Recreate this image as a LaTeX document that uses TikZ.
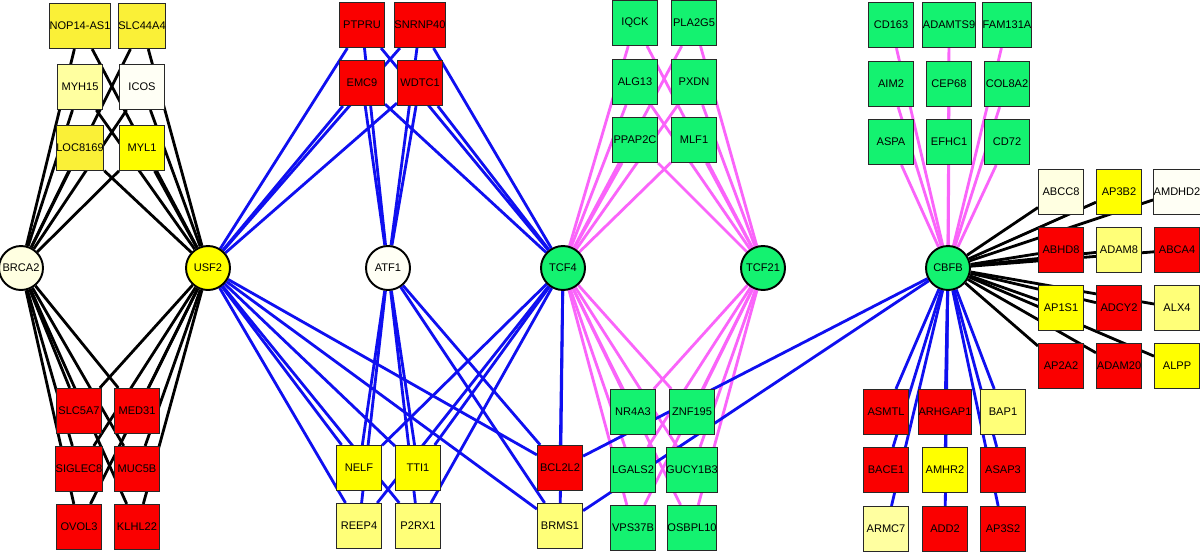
\documentclass[tikz,border=0pt]{standalone}
\usepackage{fontspec}
\setmainfont{Liberation Sans}
\usepackage{tikz}
\usetikzlibrary{backgrounds}
\definecolor{gn}{RGB}{20,242,112}
\definecolor{rd}{RGB}{250,0,0}
\definecolor{ylA}{RGB}{255,255,0}
\definecolor{ylB}{RGB}{250,240,55}
\definecolor{ylC}{RGB}{255,255,120}
\definecolor{ylD}{RGB}{255,255,160}
\definecolor{ylE}{RGB}{255,255,225}
\definecolor{ylF}{RGB}{255,255,245}
\definecolor{bl}{RGB}{15,15,240}
\definecolor{mg}{RGB}{250,100,250}
\definecolor{edg}{RGB}{40,40,40}

\begin{document}
\begin{tikzpicture}[x=0.2mm,y=-0.2mm,
	gene/.style={draw=edg,line width=0.65pt,minimum size=9mm,inner sep=0pt,font=\fontsize{6.3}{7}\selectfont},
	hub/.style={circle,draw,line width=1.1pt,minimum size=8.8mm,inner sep=0pt,font=\fontsize{6.3}{7}\selectfont},
	blk/.style={line width=1.6pt,black},
	blu/.style={line width=1.6pt,bl},
	mgn/.style={line width=1.6pt,mg}]
	\useasboundingbox (0,0) rectangle (1200,552);
	% hubs
	\foreach \n/\x/\c in {BRCA2/21/ylE,USF2/208/ylA,ATF1/388/ylF,TCF4/563/gn,TCF21/763/gn,CBFB/948/gn}
	{
		\node[hub,fill=\c] (\n) at (\x,268) {\n};
	}
	% genes
	\foreach \n/\x/\y/\c in {NOP14-AS1/80/26/ylB,SLC44A4/142/26/ylB,MYH15/80/87/ylD,ICOS/142/87/ylF,LOC8169/80/148/ylB,MYL1/142/148/ylA,
		SLC5A7/79/411/rd,MED31/137/411/rd,SIGLEC8/79/469/rd,MUC5B/137/469/rd,OVOL3/79/527/rd,KLHL22/137/527/rd,
		PTPRU/362/25/rd,SNRNP40/420/25/rd,EMC9/362/83/rd,WDTC1/420/83/rd,
		NELF/359/468/ylA,TTI1/418/468/ylA,REEP4/359/526/ylC,P2RX1/418/526/ylC,BCL2L2/560/468/rd,BRMS1/560/526/ylC,
		IQCK/635/23/gn,PLA2G5/694/23/gn,ALG13/635/82/gn,PXDN/694/82/gn,PPAP2C/635/140/gn,MLF1/694/140/gn,
		NR4A3/633/412/gn,ZNF195/692/412/gn,LGALS2/633/470/gn,GUCY1B3/692/470/gn,VPS37B/633/528/gn,OSBPL10/692/528/gn,
		CD163/891/25/gn,ADAMTS9/949/25/gn,FAM131A/1007/25/gn,AIM2/891/84/gn,CEP68/949/84/gn,COL8A2/1007/84/gn,
		ASPA/891/142/gn,EFHC1/949/142/gn,CD72/1007/142/gn,
		ABCC8/1061/192/ylE,AP3B2/1119/192/ylA,AMDHD2/1177/192/ylF,ABHD8/1061/250/rd,ADAM8/1119/250/ylC,ABCA4/1177/250/rd,
		AP1S1/1061/308/ylA,ADCY2/1119/308/rd,ALX4/1177/308/ylC,AP2A2/1061/366/rd,ADAM20/1119/366/rd,ALPP/1177/366/ylA,
		ASMTL/886/412/rd,ARHGAP1/945/412/rd,BAP1/1003/412/ylC,BACE1/886/470/rd,AMHR2/945/470/ylA,ASAP3/1003/470/rd,
		ARMC7/886/529/ylD,ADD2/945/529/rd,AP3S2/1003/529/rd}
	{
		\node[gene,fill=\c] (\n) at (\x,\y) {\n};
	}
	\begin{pgfonlayer}{background}
		\fill[white] (0,0) rectangle (1200,552);
		\foreach \h in {BRCA2,USF2}
		\foreach \g in {NOP14-AS1,SLC44A4,MYH15,ICOS,LOC8169,MYL1,SLC5A7,MED31,SIGLEC8,MUC5B,OVOL3,KLHL22}
		{
			\draw[blk] (\h) -- (\g);
		}
		\foreach \h in {TCF4,TCF21}
		\foreach \g in {IQCK,PLA2G5,ALG13,PXDN,PPAP2C,MLF1,NR4A3,ZNF195,LGALS2,GUCY1B3,VPS37B,OSBPL10}
		{
			\draw[mgn] (\h) -- (\g);
		}
		\foreach \g in {CD163,ADAMTS9,FAM131A,AIM2,CEP68,COL8A2,ASPA,EFHC1,CD72}
			\draw[mgn] (CBFB) -- (\g);
		\foreach \h in {USF2,ATF1,TCF4}
		\foreach \g in {PTPRU,SNRNP40,EMC9,WDTC1,NELF,TTI1,REEP4,P2RX1,BCL2L2,BRMS1}
		{
			\draw[blu] (\h) -- (\g);
		}
		\foreach \g in {ASMTL,ARHGAP1,BAP1,BACE1,AMHR2,ASAP3,ARMC7,ADD2,AP3S2,BCL2L2,BRMS1}
			\draw[blu] (CBFB) -- (\g);
		\foreach \g in {ABCC8,AP3B2,AMDHD2,ABHD8,ADAM8,ABCA4,AP1S1,ADCY2,ALX4,AP2A2,ADAM20,ALPP}
			\draw[blk] (CBFB) -- (\g);
	\end{pgfonlayer}
\end{tikzpicture}
\end{document}
